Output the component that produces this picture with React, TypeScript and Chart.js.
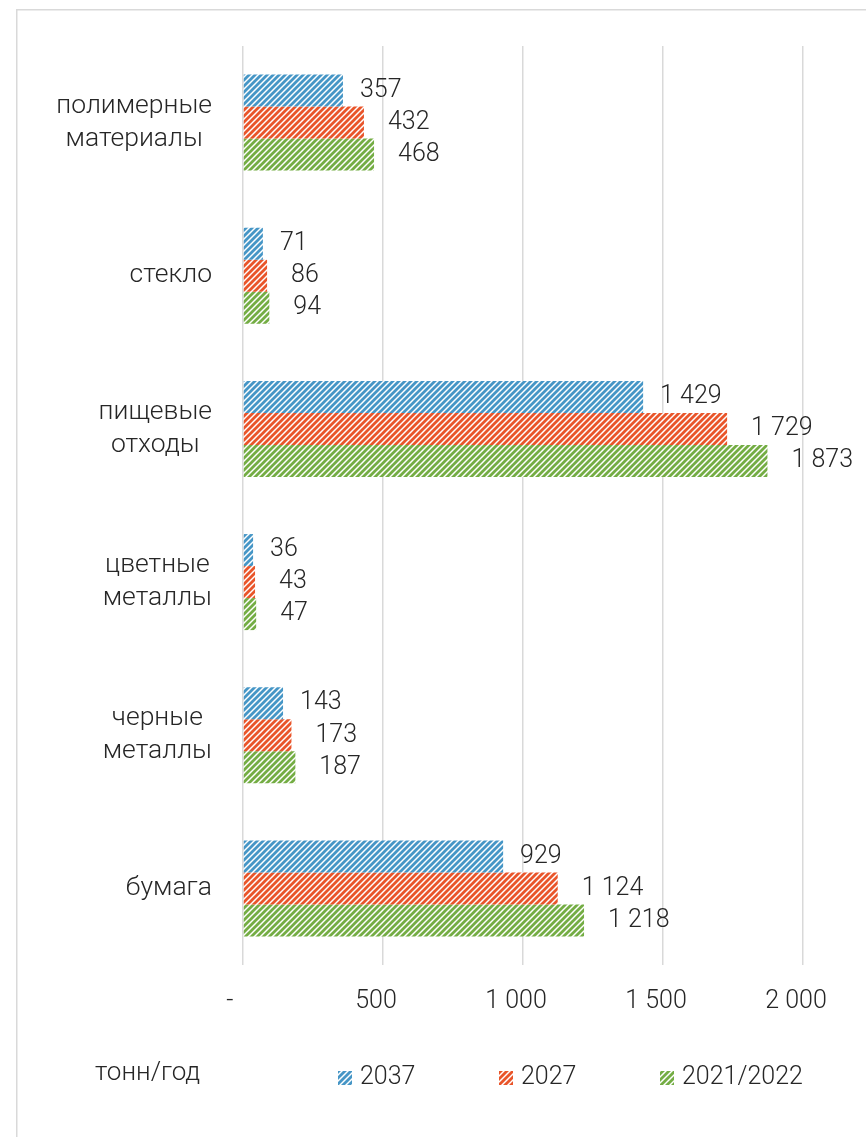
import React, { useEffect, useRef } from 'react';
import { Chart, registerables } from 'chart.js';

Chart.register(...registerables);

const categories: string[][] = [
  ['полимерные', 'материалы'],
  ['стекло'],
  ['пищевые', 'отходы'],
  ['цветные', 'металлы'],
  ['черные', 'металлы'],
  ['бумага'],
];
const seriesNames = ['2037', '2027', '2021/2022'];
const values2037 = [357, 71, 1429, 36, 143, 929];
const values2027 = [432, 86, 1729, 43, 173, 1124];
const values2021 = [468, 94, 1873, 47, 187, 1218];
const xTickValues = [0, 500, 1000, 1500, 2000];
const zeroTickLabel = '-  ';
const unitLabel = 'тонн/год';

const seriesColors = ['#4696c6', '#e9552a', '#74ad44'];
const labelOffsets = [17, 24, 24];
const TEXT = '#262626';

function fmt(n: number): string {
  return String(n).replace(/\B(?=(\d{3})+(?!\d))/g, ' ');
}

function makePattern(color: string): CanvasPattern | string {
  const c = document.createElement('canvas');
  c.width = 6;
  c.height = 6;
  const g = c.getContext('2d');
  if (!g) return color;
  g.fillStyle = '#ffffff';
  g.fillRect(0, 0, 6, 6);
  g.strokeStyle = color;
  g.lineWidth = 2.8;
  g.beginPath();
  for (const k of [-6, 0, 6]) {
    g.moveTo(k - 1, 7);
    g.lineTo(k + 7, -1);
  }
  g.stroke();
  return g.createPattern(c, 'repeat') || color;
}

const decorPlugin = {
  id: 'decor',
  beforeDraw(chart: any) {
    const ctx = chart.ctx;
    ctx.save();
    ctx.strokeStyle = '#d9d9d9';
    ctx.lineWidth = 1.5;
    ctx.beginPath();
    ctx.moveTo(16.75, chart.height);
    ctx.lineTo(16.75, 9.75);
    ctx.lineTo(chart.width, 9.75);
    ctx.stroke();
    ctx.restore();
  },
  afterDraw(chart: any) {
    const ctx = chart.ctx;
    const yScale = chart.scales.y;
    const area = chart.chartArea;
    ctx.save();
    // category labels
    ctx.font = '300 26.5px Roboto';
    ctx.fillStyle = TEXT;
    ctx.textBaseline = 'middle';
    ctx.textAlign = 'center';
    const lh = 33;
    categories.forEach((lines, i) => {
      const cy = yScale.getPixelForValue(i);
      const w = Math.max(...lines.map((l) => ctx.measureText(l).width));
      const cx = area.left - 31 - w / 2;
      lines.forEach((l, j) => {
        ctx.fillText(l, cx, cy + (j - (lines.length - 1) / 2) * lh);
      });
    });
    // value labels
    ctx.font = '300 25px Roboto';
    ctx.textAlign = 'left';
    chart.data.datasets.forEach((ds: any, di: number) => {
      const meta = chart.getDatasetMeta(di);
      meta.data.forEach((bar: any, i: number) => {
        ctx.fillText(fmt(ds.data[i]), bar.x + labelOffsets[di], bar.y);
      });
    });
    // unit label
    ctx.font = '300 26px Roboto';
    ctx.fillText(unitLabel, 95, 1073);
    // legend
    ctx.font = '300 25px Roboto';
    const legendY = 1078;
    chart.data.datasets.forEach((ds: any, di: number) => {
      const bx = 338 + di * 161;
      ctx.fillStyle = ds.backgroundColor;
      ctx.fillRect(bx, legendY - 7, 14, 14);
      ctx.fillStyle = TEXT;
      ctx.fillText(ds.label, bx + 22, legendY);
    });
    ctx.restore();
  },
};

export default function App() {
  const ref = useRef<HTMLCanvasElement | null>(null);
  useEffect(() => {
    if (!ref.current) return;
    const patterns = seriesColors.map(makePattern);
    const chart = new Chart(ref.current, {
      type: 'bar',
      data: {
        labels: categories.map((c) => c.join(' ')),
        datasets: [
          { label: seriesNames[0], data: values2037, backgroundColor: patterns[0] as any, borderWidth: 0 },
          { label: seriesNames[1], data: values2027, backgroundColor: patterns[1] as any, borderWidth: 0 },
          { label: seriesNames[2], data: values2021, backgroundColor: patterns[2] as any, borderWidth: 0 },
        ],
      },
      options: {
        indexAxis: 'y',
        responsive: false,
        maintainAspectRatio: false,
        animation: false,
        devicePixelRatio: 1,
        layout: { padding: { left: 243, right: 63, top: 46, bottom: 0 } },
        datasets: { bar: { categoryPercentage: 0.627, barPercentage: 1 } },
        plugins: { legend: { display: false }, tooltip: { enabled: false } },
        scales: {
          y: { display: false },
          x: {
            min: 0,
            max: 2000,
            afterFit: (s: any) => {
              s.height = 172;
            },
            afterBuildTicks: (s: any) => {
              s.ticks = xTickValues.map((v) => ({ value: v }));
            },
            ticks: {
              callback: (v: any) => (Number(v) === 0 ? zeroTickLabel : fmt(Number(v))),
              font: { family: 'Roboto', weight: 300 as any, size: 25 },
              color: TEXT,
              labelOffset: -7,
              padding: 22,
              maxRotation: 0,
              autoSkip: false,
            },
            grid: { color: '#d9d9d9', lineWidth: 1.5, drawTicks: false },
            border: { display: false },
          },
        },
      },
      plugins: [decorPlugin],
    });
    return () => chart.destroy();
  }, []);
  return (
    <div style={{ position: 'absolute', left: 0, top: 0, width: 866, height: 1137, background: '#fff' }}>
      <canvas ref={ref} width={866} height={1137} />
    </div>
  );
}
